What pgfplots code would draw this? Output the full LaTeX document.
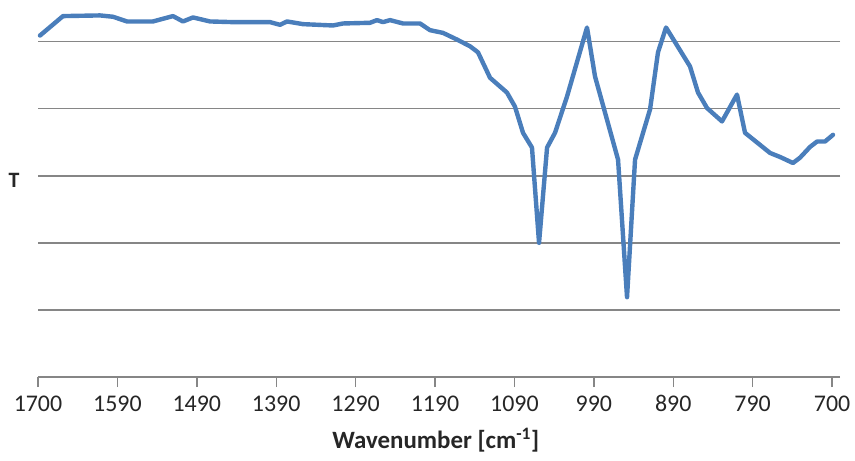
\documentclass[border=0pt]{standalone}
\usepackage{fontspec}
\setmainfont{Carlito}
\usepackage{pgfplots}
\pgfplotsset{compat=1.18}
\definecolor{curve}{HTML}{4A7EBB}
\definecolor{gridc}{HTML}{868686}
\begin{document}
\begin{tikzpicture}
\path[use as bounding box] (0,0) rectangle (855bp,461bp);
\begin{axis}[
  at={(38bp,84bp)}, anchor=south west,
  width=802bp, height=377bp, scale only axis,
  x dir=reverse, xmin=690, xmax=1700,
  ymin=0, ymax=5.62,
  axis x line*=bottom, axis y line*=left,
  x axis line style={-, draw=gridc, line width=1.6bp},
  y axis line style={-, draw=none},
  xtick={1700,1600,1500,1400,1300,1200,1100,1000,900,800,700},
  xticklabels={1700,1590,1490,1390,1290,1190,1090,990,890,790,700},
  ytick={1,2,3,4,5}, yticklabels={},
  ytick style={draw=none},
  ymajorgrids, grid style={draw=gridc, line width=1.6bp},
  tick align=outside, major tick length=10bp,
  xtick style={draw=gridc, line width=1.4bp},
  /pgf/number format/assume math mode=true,
  xticklabel style={font=\fontsize{24}{28}\selectfont, text=black!85, yshift=-5bp},
  xlabel={Wavenumber [cm\textsuperscript{-1}]},
  xlabel style={font=\bfseries\fontsize{25}{29}\selectfont, text=black!85, at={(axis description cs:0.496,0)}, anchor=north, yshift=-48bp},
  ylabel={T},
  ylabel style={font=\bfseries\fontsize{22}{26}\selectfont, text=black!85, at={(axis description cs:0,0.5225)}, anchor=center, rotate=-90, xshift=-24bp},
]
\addplot[curve, line width=4.4bp, line join=round, line cap=round] coordinates {
(1697.5,5.09) (1668.5,5.38) (1621.9,5.39) (1605.5,5.37) (1587.9,5.30)
(1555.2,5.30) (1530.0,5.38) (1517.4,5.30) (1504.8,5.36) (1483.4,5.30)
(1454.4,5.29) (1407.8,5.29) (1395.2,5.25) (1386.4,5.30) (1366.3,5.26)
(1328.5,5.24) (1315.9,5.27) (1281.9,5.28) (1273.1,5.32) (1265.5,5.29)
(1256.7,5.32) (1240.3,5.27) (1218.9,5.27) (1206.3,5.17) (1190.0,5.13)
(1172.3,5.03) (1155.9,4.93) (1145.9,4.84) (1130.7,4.46) (1109.4,4.24)
(1099.3,4.03) (1089.2,3.64) (1077.9,3.42) (1069.0,2.00) (1058.9,3.42)
(1048.9,3.64) (1033.8,4.18) (1008.6,5.21) (998.5,4.48) (969.5,3.24)
(958.2,1.19) (948.1,3.24) (929.2,3.99) (919.2,4.84) (909.1,5.21)
(878.9,4.63) (868.8,4.24) (857.5,4.01) (838.6,3.81) (819.7,4.21)
(809.6,3.64) (778.1,3.34) (765.5,3.28) (749.2,3.19) (740.3,3.27)
(727.7,3.43) (718.9,3.51) (708.9,3.51) (698.8,3.61)
};
\end{axis}
\end{tikzpicture}
\end{document}
